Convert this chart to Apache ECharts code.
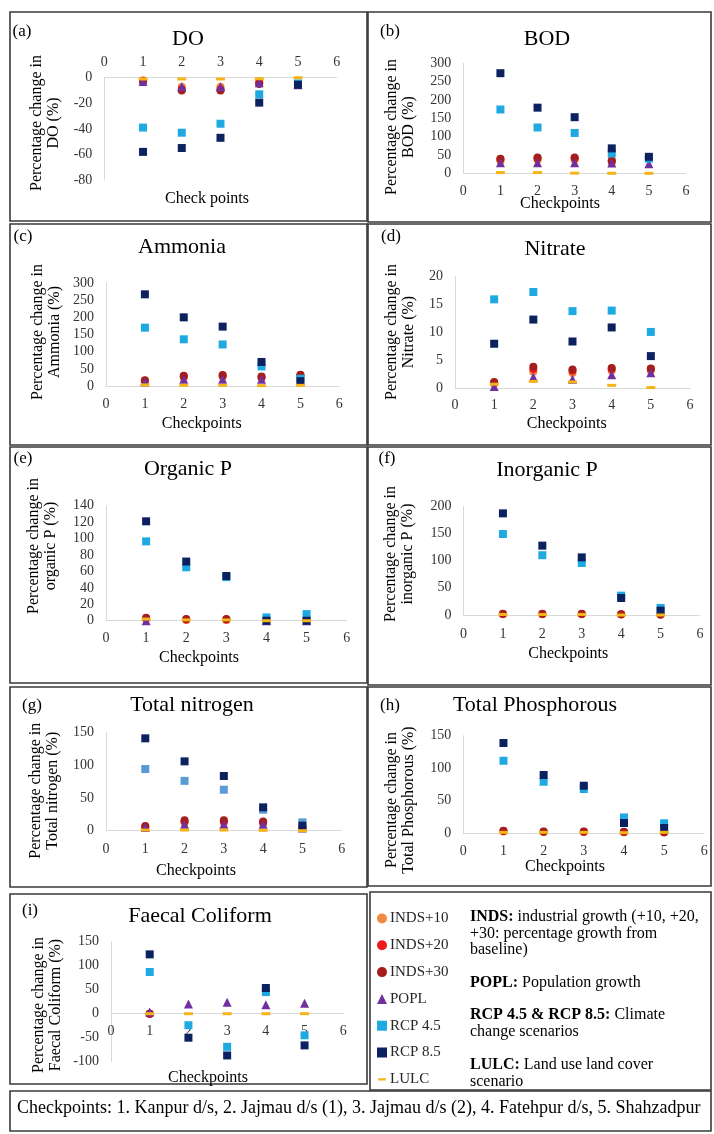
<!DOCTYPE html>
<html><head><meta charset="utf-8">
<script src="https://cdn.jsdelivr.net/npm/echarts@6/dist/echarts.min.js"></script>
<style>html,body{margin:0;padding:0;background:#fff}#c{width:714px;height:1134px}</style>
</head><body><div id="c"></div>
<script>
// ---------- DATA ----------
const checkpoints = [1, 2, 3, 4, 5];
const seriesNames = ['INDS+10', 'INDS+20', 'INDS+30', 'POPL', 'RCP 4.5', 'RCP 8.5', 'LULC'];
const panelTitles = ['DO', 'BOD', 'Ammonia', 'Nitrate', 'Organic P', 'Inorganic P', 'Total nitrogen', 'Total Phosphorous', 'Faecal Coliform'];
const panelLetters = ['(a)', '(b)', '(c)', '(d)', '(e)', '(f)', '(g)', '(h)', '(i)'];
const yNames = ['DO (%)', 'BOD (%)', 'Ammonia (%)', 'Nitrate (%)', 'organic P (%)', 'inorganic P (%)', 'Total nitrogen (%)', 'Total Phosphorous (%)', 'Faecal Coliform (%)'];
const xNames = ['Check points', 'Checkpoints', 'Checkpoints', 'Checkpoints', 'Checkpoints', 'Checkpoints', 'Checkpoints', 'Checkpoints', 'Checkpoints'];
// y-axis ticks: [min, max, interval]
const yTicks = [[-80, 0, 20], [0, 300, 50], [0, 300, 50], [0, 20, 5], [0, 140, 20], [0, 200, 50], [0, 150, 50], [0, 150, 50], [-100, 150, 50]];
const xTicks = [0, 6, 1];

// rows follow seriesNames order
const DO_vals = [
  [-2, -7, -7, -3, -5],
  [-3, -9, -9, -4, -5.5],
  [-3, -10, -10, -5, -5.5],
  [-3, -7, -7, -4, -5.5],
  [-39, -43, -36, -13, -4.5],
  [-58, -55, -47, -19.5, -5.5],
  [-1, -1, -1, -0.8, 0]
];
const BOD_vals = [
  [33, 36, 36, 28, 40],
  [38, 41, 41, 33, 42],
  [40, 43, 43, 35, 44],
  [29, 29, 29, 28, 26],
  [174, 125, 110, 54, 40],
  [273, 179, 153, 68, 45],
  [2, 2, 0.5, 0, 0]
];
const Ammonia_vals = [
  [12, 24, 26, 22, 28],
  [15, 28, 30, 26, 31],
  [17, 30, 32, 28, 33],
  [12, 20, 20, 20, 15],
  [170, 136, 121, 57, 21],
  [267, 200, 173, 70, 14],
  [3, 2, 2, 1, 2]
];
const Nitrate_vals = [
  [0.9, 3.0, 2.8, 3.2, 3.2],
  [1.1, 3.5, 3.2, 3.5, 3.5],
  [1.2, 3.9, 3.4, 3.7, 3.6],
  [0.4, 2.1, 1.7, 2.5, 2.85],
  [15.9, 17.2, 13.8, 13.9, 10.1],
  [8.0, 12.3, 8.4, 10.9, 5.8],
  [0.8, 1.3, 1.2, 0.6, 0.2]
];
const OrganicP_vals = [
  [2, 1, 1, 0.5, 0.5],
  [3, 1.5, 1.5, 0.5, 0.5],
  [3.5, 2, 2, 0.5, 0.5],
  [0, -1, -1, 0, 0],
  [96.6, 65, 53, 4, 8],
  [121, 72, 54.4, 0, 0],
  [2, 1, 1, 0, 0]
];
const InorganicP_vals = [
  [1.5, 1.5, 1.5, 1, 1],
  [2, 2, 2, 1.5, 1],
  [2.5, 2.5, 2.5, 1.5, 1],
  [-1, -1, -1, -1, -2],
  [149, 110, 95.7, 35.6, 13],
  [187, 127.6, 106, 31.3, 8],
  [1, 1, 1, 0, 0]
];
const TN_vals = [
  [5, 12, 12, 11, 5],
  [6, 14, 14, 12.5, 5],
  [7, 16, 16, 14, 5],
  [5, 10, 10, 10, 4],
  [94, 76, 62.5, 32, 12.7],
  [140.8, 105.7, 83.4, 35.6, 7.6],
  [1, 1, 1, 0.5, 0]
];
const TP_vals = [
  [2.5, 1.5, 1.5, 1, 1],
  [3, 2, 2, 1.5, 1],
  [3.6, 2.5, 2.5, 2, 1],
  [-1, -1, -1, -1, -1],
  [111.4, 79, 67.8, 24, 15],
  [138.7, 89.4, 72.9, 15.4, 7.7],
  [1, 1, 1, 0.5, 1]
];
const FC_vals = [
  [0, null, null, null, null],
  [0, null, null, null, null],
  [0, null, null, null, null],
  [3.5, 20, 24, 18.75, 22],
  [86.8, -24, -69, 45, -45],
  [123.6, -50, -87, 53.5, -66],
  [0, 0, 0, 0, 0]
];
const panelValues = [DO_vals, BOD_vals, Ammonia_vals, Nitrate_vals, OrganicP_vals, InorganicP_vals, TN_vals, TP_vals, FC_vals];

// ---------- STYLE / LAYOUT ----------
const FONT = '"Liberation Serif", "Times New Roman", serif';
const colors = ['#F08A3E', '#EE1B1B', '#A51D1D', '#7030A0', '#1FA9E1', '#0C2160', '#F5B417'];
const rcp45AltColor = '#5B9BD5'; // panel (g) uses a steel-blue shade
const symbols = ['circle', 'circle', 'circle', 'triangle', 'rect', 'rect', 'rect'];
const symbolSizes = [8, 8, 8, 9, 8, 8, [9, 3]];
const layout = [
  {g: [104.3, 77.7, 232.4, 102.3], xm: 8, xpos: 'top', frame: [10, 12, 357, 209], L: [22, 32], T: [188, 39], Y: [45, 123], X: [207, 199]},
  {g: [463.3, 63.3, 222.7, 110], xm: 11, xpos: 'bottom', frame: [368, 12, 343, 210], L: [390, 32], T: [547, 39], Y: [400, 127], X: [560, 203.3]},
  {g: [106, 283, 233.3, 103], xm: 11, xpos: 'bottom', frame: [10, 224, 357, 221], L: [23, 237], T: [182, 247], Y: [46, 332], X: [201.7, 423.7]},
  {g: [455, 276.3, 235, 112.4], xm: 10, xpos: 'bottom', frame: [368, 224, 343, 221], L: [391, 237], T: [555, 249], Y: [400, 332], X: [566.7, 423.7]},
  {g: [106, 505.7, 240.7, 115], xm: 11, xpos: 'bottom', frame: [10, 447, 357, 236], L: [23, 459], T: [188, 469], Y: [42, 546], X: [199, 657.3]},
  {g: [463.5, 506.3, 236.5, 108.7], xm: 12, xpos: 'bottom', frame: [368, 447, 343, 238], L: [387, 459], T: [547, 470], Y: [399, 554], X: [568.3, 654]},
  {g: [106, 732.3, 235.7, 98.4], xm: 12, xpos: 'bottom', frame: [10, 687, 357, 200], L: [32, 705.7], T: [192, 705.7], Y: [44, 790.7], X: [196, 870.7]},
  {g: [463.3, 735.7, 241, 97.3], xm: 11, xpos: 'bottom', frame: [368, 687, 343, 199], L: [390, 705.7], T: [535, 705.7], Y: [400, 800], X: [565, 866.3]},
  {g: [111, 941.7, 232.3, 120], xm: 11, xpos: 'bottom', frame: [10, 894, 357, 190], L: [30, 910.7], T: [200, 916.7], Y: [47.5, 1005], X: [208, 1077.3], zeroLine: true}
];

const grids = [], xAxes = [], yAxes = [], series = [], graphics = [];
layout.forEach((l, p) => {
  grids.push({left: l.g[0], top: l.g[1], width: l.g[2], height: l.g[3], containLabel: false});
  const xa = {
    gridIndex: p, type: 'value', min: xTicks[0], max: xTicks[1], interval: xTicks[2], position: l.xpos,
    axisLine: {show: true, onZero: true, lineStyle: {color: '#d9d9d9', width: 1}},
    axisTick: {show: false}, splitLine: {show: false},
    axisLabel: {fontFamily: FONT, fontSize: 14, color: '#333', margin: l.xm}
  };
  if (l.zeroLine) {
    // place the x axis (line + labels) at y = 0 of this panel
    const yr = yTicks[p];
    xa.axisLine.onZero = false;
    xa.offset = -l.g[3] * (0 - yr[0]) / (yr[1] - yr[0]);
  }
  xAxes.push(xa);
  yAxes.push({
    gridIndex: p, type: 'value', min: yTicks[p][0], max: yTicks[p][1], interval: yTicks[p][2],
    axisLine: {show: true, onZero: true, lineStyle: {color: '#d9d9d9', width: 1}},
    axisTick: {show: false}, splitLine: {show: false},
    axisLabel: {fontFamily: FONT, fontSize: 14, color: '#333', margin: 12}
  });
  panelValues[p].forEach((vals, s) => {
    series.push({
      type: 'scatter', name: seriesNames[s], xAxisIndex: p, yAxisIndex: p,
      symbol: symbols[s], symbolSize: symbolSizes[s],
      itemStyle: {color: (p === 6 && s === 4) ? rcp45AltColor : colors[s], opacity: 1},
      z: 2 + s,
      data: checkpoints.map((c, i) => vals[i] == null ? null : [c, vals[i]]).filter(d => d)
    });
  });
  const f = l.frame;
  graphics.push({type: 'rect', shape: {x: f[0], y: f[1], width: f[2], height: f[3]}, style: {fill: 'none', stroke: '#3a3a3a', lineWidth: 1.6}, silent: true});
  graphics.push({type: 'text', x: l.L[0], y: l.L[1], style: {text: panelLetters[p], font: '17px ' + FONT, fill: '#000', textAlign: 'center', textVerticalAlign: 'middle'}});
  graphics.push({type: 'text', x: l.T[0], y: l.T[1], style: {text: panelTitles[p], font: '22px ' + FONT, fill: '#000', textAlign: 'center', textVerticalAlign: 'middle'}});
  graphics.push({type: 'text', x: l.Y[0], y: l.Y[1], rotation: Math.PI / 2, style: {text: 'Percentage change in\n' + yNames[p], font: '16px ' + FONT, lineHeight: 17, fill: '#000', textAlign: 'center', textVerticalAlign: 'middle'}});
  graphics.push({type: 'text', x: l.X[0], y: l.X[1], style: {text: xNames[p], font: '16px ' + FONT, fill: '#000', textAlign: 'center', textVerticalAlign: 'middle'}});
});

// legend box & explanation
graphics.push({type: 'rect', shape: {x: 370, y: 892, width: 341, height: 198}, style: {fill: 'none', stroke: '#3a3a3a', lineWidth: 1.6}, silent: true});
graphics.push({type: 'rect', shape: {x: 10, y: 1091, width: 701, height: 40}, style: {fill: 'none', stroke: '#3a3a3a', lineWidth: 1.6}, silent: true});
const descLines = [
  ['{b|INDS:} industrial growth (+10, +20,', 916.7],
  ['+30: percentage growth from', 933.3],
  ['baseline)', 949.5],
  ['{b|POPL:} Population growth', 983],
  ['{b|RCP 4.5 & RCP 8.5:} Climate', 1015],
  ['change scenarios', 1032],
  ['{b|LULC:} Land use land cover', 1064.7],
  ['scenario', 1081.3]
];
descLines.forEach(d => {
  graphics.push({type: 'text', x: 470, y: d[1], style: {text: d[0], font: '16px ' + FONT, fill: '#000', textAlign: 'left', textVerticalAlign: 'middle',
    rich: {b: {fontFamily: FONT, fontSize: 16, fontWeight: 'bold', fill: '#000'}}}});
});
graphics.push({type: 'text', x: 17, y: 1108, style: {text: 'Checkpoints: 1. Kanpur d/s, 2. Jajmau d/s (1), 3. Jajmau d/s (2), 4. Fatehpur d/s, 5. Shahzadpur', font: '18px ' + FONT, fill: '#000', textAlign: 'left', textVerticalAlign: 'middle'}});

const legendIcons = ['circle', 'circle', 'circle', 'triangle', 'rect', 'rect',
  'path://M0,0L0.001,0L0,0.001Z M0,5L10,5L10,8L0,8Z M0,13L0.001,13L0,12.999Z'];

const chart = echarts.init(document.getElementById('c'), null, {renderer: 'canvas'});
chart.setOption({
  animation: false,
  backgroundColor: '#fff',
  grid: grids, xAxis: xAxes, yAxis: yAxes, series: series,
  legend: {
    orient: 'vertical', left: 372, top: 906, itemWidth: 10, itemHeight: 10, itemGap: 11.8,
    selectedMode: false,
    textStyle: {fontFamily: FONT, fontSize: 15, color: '#262626', padding: [0, 0, 0, -2]},
    data: seriesNames.map((n, i) => ({name: n, icon: legendIcons[i]}))
  },
  graphic: {elements: graphics}
});
</script></body></html>
